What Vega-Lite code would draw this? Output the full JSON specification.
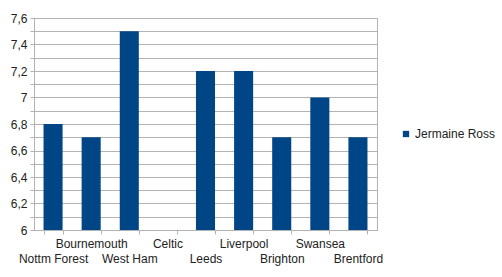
{
  "$schema": "https://vega.github.io/schema/vega-lite/v6.json",
  "autosize": "none",
  "width": 343,
  "height": 212,
  "padding": {"left": 34, "top": 18, "right": 125, "bottom": 47},
  "background": "white",
  "data": {
    "values": [
      {"team": "Nottm Forest", "rating": 6.8, "player": "Jermaine Ross"},
      {"team": "Bournemouth", "rating": 6.7, "player": "Jermaine Ross"},
      {"team": "West Ham", "rating": 7.5, "player": "Jermaine Ross"},
      {"team": "Celtic", "rating": null, "player": "Jermaine Ross"},
      {"team": "Leeds", "rating": 7.2, "player": "Jermaine Ross"},
      {"team": "Liverpool", "rating": 7.2, "player": "Jermaine Ross"},
      {"team": "Brighton", "rating": 6.7, "player": "Jermaine Ross"},
      {"team": "Swansea", "rating": 7.0, "player": "Jermaine Ross"},
      {"team": "Brentford", "rating": 6.7, "player": "Jermaine Ross"}
    ]
  },
  "mark": {"type": "bar", "clip": true},
  "encoding": {
    "x": {
      "field": "team",
      "type": "nominal",
      "scale": {
        "domain": ["Nottm Forest", "Bournemouth", "West Ham", "Celtic", "Leeds", "Liverpool", "Brighton", "Swansea", "Brentford"],
        "paddingInner": 0.5,
        "paddingOuter": 0.25
      },
      "axis": {
        "title": null,
        "labelAngle": 0,
        "tickBand": "extent",
        "tickSize": 4,
        "tickColor": "#b3b3b3",
        "domainColor": "#b3b3b3",
        "labelFont": "Liberation Sans",
        "labelFontSize": 12,
        "labelColor": "#222222",
        "labelBaseline": "top",
        "labelOverlap": false,
        "labelPadding": {"expr": "indexof(['Bournemouth','Celtic','Liverpool','Swansea'], datum.value) >= 0 ? 4 : 19"}
      }
    },
    "y": {
      "field": "rating",
      "type": "quantitative",
      "scale": {"domain": [6, 7.6], "nice": false, "zero": false},
      "axis": {
        "title": null,
        "values": [6, 6.1, 6.2, 6.3, 6.4, 6.5, 6.6, 6.7, 6.8, 6.9, 7, 7.1, 7.2, 7.3, 7.4, 7.5, 7.6],
        "labelExpr": "round(datum.value*10) % 2 == 0 ? replace(format(datum.value, '.1~f'), '.', ',') : ''",
        "tickSize": 4,
        "tickColor": "#b3b3b3",
        "domainColor": "#b3b3b3",
        "gridColor": "#b3b3b3",
        "labelFont": "Liberation Sans",
        "labelFontSize": 12,
        "labelColor": "#222222",
        "labelPadding": 3,
        "labelOverlap": false
      }
    },
    "color": {
      "field": "player",
      "type": "nominal",
      "scale": {"range": ["#004586"]},
      "legend": {
        "title": null,
        "orient": "none",
        "legendX": 366,
        "legendY": 110,
        "symbolType": "square",
        "symbolSize": 40,
        "labelFont": "Liberation Sans",
        "labelFontSize": 12,
        "labelColor": "#222222",
        "labelOffset": 3
      }
    }
  },
  "config": {
    "view": {"stroke": "#b3b3b3"},
    "bar": {"opacity": 1}
  }
}
